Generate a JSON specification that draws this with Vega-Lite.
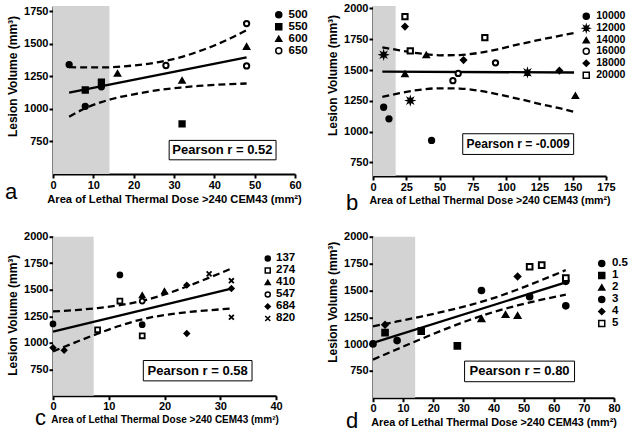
{
"$schema":"https://vega.github.io/schema/vega-lite/v6.json",
"padding":{"left":5,"top":2,"right":0,"bottom":0},
"background":"white",
"config":{
 "font":"Liberation Sans",
 "view":{"stroke":null},
 "axis":{"domainColor":"black","domainWidth":2,"tickColor":"black","tickWidth":2,"tickSize":4,"labelFontSize":11,"labelFontWeight":"bold","labelColor":"black","titleFontWeight":"bold","titleColor":"black","grid":false,"labelPadding":1,"labelOverlap":false,"labelFlush":false,"tickCount":20},
 "axisX":{"titlePadding":3},
 "axisY":{"titleFontSize":12,"titlePadding":4,"format":"d"},
 "legend":{"labelFontWeight":"bold","labelColor":"black","labelOffset":4,"symbolSize":36},
 "title":{"color":"black"}
},
"concat":[
{
 "width":242,"height":168,
 "title":{"text":"a","orient":"bottom","anchor":"start","frame":"group","fontSize":22,"fontWeight":"normal","dx":-48,"dy":-26},
 "layer":[
  {"data":{"values":[{"x":0,"x2":14}]},"mark":{"type":"rect","color":"#d3d3d3"},
   "encoding":{"x":{"field":"x","type":"quantitative","scale":{"domain":[0,60],"nice":false},"axis":{"values":[0,10,20,30,40,50,60],"tickCount":20,"title":"Area of Lethal Thermal Dose >240 CEM43 (mm²)","titleFontSize":11.2,"labelOverlap":false}},"x2":{"field":"x2"},
   "y":{"datum":1790,"type":"quantitative","scale":{"domain":[500,1790],"nice":false},"axis":{"values":[750,1000,1250,1500,1750],"tickCount":20,"title":"Lesion  Volume (mm³)","titleY":70,"labelOverlap":false}},"y2":{"datum":500}}},
  {"data":{"values":[
   {"s":"u","x":4,"y":1320},{"s":"u","x":8,"y":1318},{"s":"u","x":12,"y":1318},{"s":"u","x":16,"y":1323},{"s":"u","x":20,"y":1333},{"s":"u","x":24,"y":1348},{"s":"u","x":28,"y":1370},{"s":"u","x":32,"y":1400},{"s":"u","x":36,"y":1440},{"s":"u","x":40,"y":1487},{"s":"u","x":44,"y":1542},{"s":"u","x":48,"y":1605},
   {"s":"l","x":4,"y":940},{"s":"l","x":8,"y":1005},{"s":"l","x":12,"y":1052},{"s":"l","x":16,"y":1087},{"s":"l","x":20,"y":1112},{"s":"l","x":24,"y":1134},{"s":"l","x":28,"y":1152},{"s":"l","x":32,"y":1165},{"s":"l","x":36,"y":1176},{"s":"l","x":40,"y":1184},{"s":"l","x":44,"y":1190},{"s":"l","x":48,"y":1195}]},
   "mark":{"type":"line","strokeDash":[7,4],"strokeWidth":2.3,"color":"black","interpolate":"monotone"},
   "encoding":{"x":{"field":"x","type":"quantitative"},"y":{"field":"y","type":"quantitative"},"detail":{"field":"s"}}},
  {"data":{"values":[{"x":4,"y":1125},{"x":48,"y":1395}]},"mark":{"type":"line","strokeWidth":2.3,"color":"black"},
   "encoding":{"x":{"field":"x","type":"quantitative"},"y":{"field":"y","type":"quantitative"}}},
  {"data":{"values":[{"x":28.8,"x2":55.3,"y":609,"y2":758}]},"mark":{"type":"rect","fill":"white","stroke":"black","strokeWidth":1},
   "encoding":{"x":{"field":"x","type":"quantitative"},"x2":{"field":"x2"},"y":{"field":"y","type":"quantitative"},"y2":{"field":"y2"}}},
  {"data":{"values":[{"x":42,"y":683,"t":"Pearson r = 0.52"}]},"mark":{"type":"text","fontSize":13,"fontWeight":"bold","color":"black"},
   "encoding":{"x":{"field":"x","type":"quantitative"},"y":{"field":"y","type":"quantitative"},"text":{"field":"t"}}},
  {"data":{"values":[
   {"g":"500","x":4,"y":1340},{"g":"500","x":8,"y":1020},{"g":"500","x":12,"y":1170},
   {"g":"550","x":8,"y":1145},{"g":"550","x":12,"y":1205},{"g":"550","x":32,"y":885},
   {"g":"600","x":16,"y":1272},{"g":"600","x":32,"y":1218},{"g":"600","x":48,"y":1478},
   {"g":"650","x":28,"y":1333},{"g":"650","x":48,"y":1655},{"g":"650","x":48,"y":1330}]},
   "mark":{"type":"point","filled":true,"stroke":"black","strokeWidth":2,"opacity":1,"size":28},
   "encoding":{"x":{"field":"x","type":"quantitative"},"y":{"field":"y","type":"quantitative"},
    "shape":{"field":"g","type":"nominal","scale":{"domain":["500","550","600","650"],"range":["circle","square","triangle-up","circle"]},"legend":{"title":null,"orient":"none","legendX":220,"legendY":3,"labelFontSize":11.5,"rowPadding":-1,"encode":{"symbols":{"update":{"stroke":{"value":"black"},"strokeWidth":{"value":2}}}}}},
    "fill":{"field":"g","type":"nominal","scale":{"domain":["500","550","600","650"],"range":["black","black","black","white"]},"legend":{"title":null,"orient":"none","legendX":220,"legendY":3,"labelFontSize":11.5,"rowPadding":-1,"encode":{"symbols":{"update":{"stroke":{"value":"black"},"strokeWidth":{"value":2}}}}}}}}
 ]
},
{
 "width":233,"height":170,
 "title":{"text":"b","orient":"bottom","anchor":"start","frame":"group","fontSize":22,"fontWeight":"normal","dx":-27,"dy":-17},
 "layer":[
  {"data":{"values":[{"x":0,"x2":17}]},"mark":{"type":"rect","color":"#d3d3d3"},
   "encoding":{"x":{"field":"x","type":"quantitative","scale":{"domain":[0,175],"nice":false},"axis":{"values":[0,25,50,75,100,125,150,175],"tickCount":20,"title":"Area of Lethal Thermal Dose >240 CEM43 (mm²)","titleFontSize":10.6,"labelOverlap":false}},"x2":{"field":"x2"},
   "y":{"datum":2020,"type":"quantitative","scale":{"domain":[640,2020],"nice":false},"axis":{"values":[750,1000,1250,1500,1750,2000],"tickCount":20,"title":"Lesion  Volume (mm³)","titleY":69,"labelOverlap":false}},"y2":{"datum":640}}},
  {"data":{"values":[
   {"s":"u","x":7,"y":1685},{"s":"u","x":20,"y":1660},{"s":"u","x":35,"y":1635},{"s":"u","x":50,"y":1620},{"s":"u","x":65,"y":1622},{"s":"u","x":80,"y":1640},{"s":"u","x":95,"y":1672},{"s":"u","x":110,"y":1710},{"s":"u","x":125,"y":1745},{"s":"u","x":140,"y":1778},{"s":"u","x":151,"y":1800},
   {"s":"l","x":7,"y":1283},{"s":"l","x":20,"y":1312},{"s":"l","x":35,"y":1340},{"s":"l","x":50,"y":1352},{"s":"l","x":65,"y":1350},{"s":"l","x":80,"y":1332},{"s":"l","x":95,"y":1300},{"s":"l","x":110,"y":1265},{"s":"l","x":125,"y":1225},{"s":"l","x":140,"y":1190},{"s":"l","x":151,"y":1160}]},
   "mark":{"type":"line","strokeDash":[7,4],"strokeWidth":2.3,"color":"black","interpolate":"monotone"},
   "encoding":{"x":{"field":"x","type":"quantitative"},"y":{"field":"y","type":"quantitative"},"detail":{"field":"s"}}},
  {"data":{"values":[{"x":7,"y":1487},{"x":151,"y":1480}]},"mark":{"type":"line","strokeWidth":2.3,"color":"black"},
   "encoding":{"x":{"field":"x","type":"quantitative"},"y":{"field":"y","type":"quantitative"}}},
  {"data":{"values":[{"x":67.4,"x2":150.7,"y":815,"y2":983}]},"mark":{"type":"rect","fill":"white","stroke":"black","strokeWidth":1},
   "encoding":{"x":{"field":"x","type":"quantitative"},"x2":{"field":"x2"},"y":{"field":"y","type":"quantitative"},"y2":{"field":"y2"}}},
  {"data":{"values":[{"x":109,"y":899,"t":"Pearson r = -0.009"}]},"mark":{"type":"text","fontSize":12,"fontWeight":"bold","color":"black"},
   "encoding":{"x":{"field":"x","type":"quantitative"},"y":{"field":"y","type":"quantitative"},"text":{"field":"t"}}},
  {"data":{"values":[
   {"g":"10000","x":8,"y":1198},{"g":"10000","x":12,"y":1104},{"g":"10000","x":44,"y":929},
   {"g":"12000","x":8,"y":1624},{"g":"12000","x":28,"y":1252},{"g":"12000","x":116,"y":1481},
   {"g":"14000","x":24,"y":1468},{"g":"14000","x":40,"y":1622},{"g":"14000","x":152,"y":1292},
   {"g":"16000","x":60,"y":1414},{"g":"16000","x":64,"y":1473},{"g":"16000","x":92,"y":1559},
   {"g":"18000","x":24,"y":1853},{"g":"18000","x":68,"y":1581},{"g":"18000","x":140,"y":1495},
   {"g":"20000","x":24,"y":1934},{"g":"20000","x":28,"y":1656},{"g":"20000","x":84,"y":1764}]},
   "mark":{"type":"point","filled":true,"stroke":"black","strokeWidth":2,"opacity":1,"size":28},
   "encoding":{"x":{"field":"x","type":"quantitative"},"y":{"field":"y","type":"quantitative"},
    "shape":{"field":"g","type":"nominal","scale":{"domain":["10000","12000","14000","16000","18000","20000"],"range":["circle","M1,0L0.42,0.17L0.71,0.71L0.17,0.42L0,1L-0.17,0.42L-0.71,0.71L-0.42,0.17L-1,0L-0.42,-0.17L-0.71,-0.71L-0.17,-0.42L0,-1L0.17,-0.42L0.71,-0.71L0.42,-0.17Z","triangle-up","circle","diamond","square"]},"legend":{"title":null,"orient":"none","legendX":208,"legendY":5,"labelFontSize":10.5,"rowPadding":-2.3,"labelOffset":4.7,"encode":{"symbols":{"update":{"stroke":{"value":"black"},"strokeWidth":{"value":2}}}}}},
    "fill":{"field":"g","type":"nominal","scale":{"domain":["10000","12000","14000","16000","18000","20000"],"range":["black","black","black","white","black","white"]},"legend":{"title":null,"orient":"none","legendX":208,"legendY":5,"labelFontSize":10.5,"rowPadding":-2.3,"labelOffset":4.7,"encode":{"symbols":{"update":{"stroke":{"value":"black"},"strokeWidth":{"value":2}}}}}}}}
 ]
},
{
 "width":223,"height":159,
 "title":{"text":"c","orient":"bottom","anchor":"start","frame":"group","fontSize":22,"fontWeight":"normal","dx":-18,"dy":-21},
 "layer":[
  {"data":{"values":[{"x":0,"x2":7.3}]},"mark":{"type":"rect","color":"#d3d3d3"},
   "encoding":{"x":{"field":"x","type":"quantitative","scale":{"domain":[0,40],"nice":false},"axis":{"values":[0,10,20,30,40],"tickCount":20,"title":"Area of Lethal Thermal Dose >240 CEM43 (mm²)","titleFontSize":10,"labelOverlap":false}},"x2":{"field":"x2"},
   "y":{"datum":2000,"type":"quantitative","scale":{"domain":[500,2000],"nice":false},"axis":{"values":[750,1000,1250,1500,1750,2000],"tickCount":20,"title":"Lesion  Volume (mm³)","titleY":78,"labelOverlap":false}},"y2":{"datum":500}}},
  {"data":{"values":[
   {"s":"u","x":0,"y":1295},{"s":"u","x":4,"y":1308},{"s":"u","x":8,"y":1327},{"s":"u","x":12,"y":1354},{"s":"u","x":16,"y":1395},{"s":"u","x":20,"y":1455},{"s":"u","x":24,"y":1530},{"s":"u","x":28,"y":1613},{"s":"u","x":32,"y":1700},
   {"s":"l","x":0,"y":918},{"s":"l","x":4,"y":1003},{"s":"l","x":8,"y":1085},{"s":"l","x":12,"y":1160},{"s":"l","x":16,"y":1221},{"s":"l","x":20,"y":1261},{"s":"l","x":24,"y":1288},{"s":"l","x":28,"y":1306},{"s":"l","x":32,"y":1322}]},
   "mark":{"type":"line","strokeDash":[7,4],"strokeWidth":2.3,"color":"black","interpolate":"monotone"},
   "encoding":{"x":{"field":"x","type":"quantitative"},"y":{"field":"y","type":"quantitative"},"detail":{"field":"s"}}},
  {"data":{"values":[{"x":0,"y":1105},{"x":32,"y":1510}]},"mark":{"type":"line","strokeWidth":2.3,"color":"black"},
   "encoding":{"x":{"field":"x","type":"quantitative"},"y":{"field":"y","type":"quantitative"}}},
  {"data":{"values":[{"x":16.2,"x2":35.7,"y":640,"y2":832}]},"mark":{"type":"rect","fill":"white","stroke":"black","strokeWidth":1},
   "encoding":{"x":{"field":"x","type":"quantitative"},"x2":{"field":"x2"},"y":{"field":"y","type":"quantitative"},"y2":{"field":"y2"}}},
  {"data":{"values":[{"x":25.95,"y":736,"t":"Pearson r = 0.58"}]},"mark":{"type":"text","fontSize":13,"fontWeight":"bold","color":"black"},
   "encoding":{"x":{"field":"x","type":"quantitative"},"y":{"field":"y","type":"quantitative"},"text":{"field":"t"}}},
  {"data":{"values":[
   {"g":"137","x":12,"y":1639},{"g":"137","x":16,"y":1170},{"g":"137","x":0,"y":1177},
   {"g":"274","x":8,"y":1122},{"g":"274","x":16,"y":1065},{"g":"274","x":12,"y":1393},
   {"g":"410","x":16,"y":1448},{"g":"410","x":20,"y":1486},
   {"g":"547","x":16,"y":1393},
   {"g":"684","x":2,"y":928},{"g":"684","x":0,"y":953},{"g":"684","x":24,"y":1543},{"g":"684","x":24,"y":1087},{"g":"684","x":32,"y":1511},
   {"g":"820","x":28,"y":1649},{"g":"820","x":32,"y":1585},{"g":"820","x":32,"y":1240}]},
   "mark":{"type":"point","filled":true,"stroke":"black","strokeWidth":1.8,"opacity":1,"size":24},
   "encoding":{"x":{"field":"x","type":"quantitative"},"y":{"field":"y","type":"quantitative"},
    "shape":{"field":"g","type":"nominal","scale":{"domain":["137","274","410","547","684","820"],"range":["circle","square","triangle-up","circle","diamond","M-1,-1L1,1M-1,1L1,-1"]},"legend":{"title":null,"orient":"none","legendX":209,"legendY":16,"labelFontSize":11.5,"symbolSize":25,"rowPadding":-4,"labelOffset":2.5,"encode":{"symbols":{"update":{"stroke":{"value":"black"},"strokeWidth":{"value":1.8}}}}}},
    "fill":{"field":"g","type":"nominal","scale":{"domain":["137","274","410","547","684","820"],"range":["black","white","black","white","black","black"]},"legend":{"title":null,"orient":"none","legendX":209,"legendY":16,"labelFontSize":11.5,"symbolSize":25,"rowPadding":-4,"labelOffset":2.5,"encode":{"symbols":{"update":{"stroke":{"value":"black"},"strokeWidth":{"value":1.8}}}}}}}}
 ]
},
{
 "width":241,"height":161,
 "title":{"text":"d","orient":"bottom","anchor":"start","frame":"group","fontSize":22,"fontWeight":"normal","dx":-27,"dy":-21},
 "layer":[
  {"data":{"values":[{"x":0,"x2":14}]},"mark":{"type":"rect","color":"#d3d3d3"},
   "encoding":{"x":{"field":"x","type":"quantitative","scale":{"domain":[0,80],"nice":false},"axis":{"values":[0,10,20,30,40,50,60,70,80],"tickCount":20,"title":"Area of Lethal Thermal Dose >240 CEM43 (mm²)","titleFontSize":10.8,"labelOverlap":false}},"x2":{"field":"x2"},
   "y":{"datum":2000,"type":"quantitative","scale":{"domain":[500,2000],"nice":false},"axis":{"values":[750,1000,1250,1500,1750,2000],"tickCount":20,"title":"Lesion  Volume (mm³)","titleY":65,"labelOverlap":false}},"y2":{"datum":500}}},
  {"data":{"values":[
   {"s":"u","x":0,"y":1165},{"s":"u","x":8,"y":1210},{"s":"u","x":16,"y":1256},{"s":"u","x":24,"y":1306},{"s":"u","x":32,"y":1362},{"s":"u","x":40,"y":1428},{"s":"u","x":48,"y":1508},{"s":"u","x":56,"y":1596},{"s":"u","x":64,"y":1689},
   {"s":"l","x":0,"y":855},{"s":"l","x":8,"y":952},{"s":"l","x":16,"y":1047},{"s":"l","x":24,"y":1139},{"s":"l","x":32,"y":1224},{"s":"l","x":40,"y":1298},{"s":"l","x":48,"y":1360},{"s":"l","x":56,"y":1413},{"s":"l","x":64,"y":1461}]},
   "mark":{"type":"line","strokeDash":[7,4],"strokeWidth":2.3,"color":"black","interpolate":"monotone"},
   "encoding":{"x":{"field":"x","type":"quantitative"},"y":{"field":"y","type":"quantitative"},"detail":{"field":"s"}}},
  {"data":{"values":[{"x":0,"y":1010},{"x":64,"y":1575}]},"mark":{"type":"line","strokeWidth":2.3,"color":"black"},
   "encoding":{"x":{"field":"x","type":"quantitative"},"y":{"field":"y","type":"quantitative"}}},
  {"data":{"values":[{"x":30.4,"x2":66.9,"y":649,"y2":841}]},"mark":{"type":"rect","fill":"white","stroke":"black","strokeWidth":1},
   "encoding":{"x":{"field":"x","type":"quantitative"},"x2":{"field":"x2"},"y":{"field":"y","type":"quantitative"},"y2":{"field":"y2"}}},
  {"data":{"values":[{"x":48.65,"y":745,"t":"Pearson r = 0.80"}]},"mark":{"type":"text","fontSize":13,"fontWeight":"bold","color":"black"},
   "encoding":{"x":{"field":"x","type":"quantitative"},"y":{"field":"y","type":"quantitative"},"text":{"field":"t"}}},
  {"data":{"values":[
   {"g":"0.5","x":0,"y":1001},{"g":"0.5","x":8,"y":1032},{"g":"0.5","x":36,"y":1499},
   {"g":"1","x":4,"y":1107},{"g":"1","x":16,"y":1120},{"g":"1","x":28,"y":983},
   {"g":"2","x":36,"y":1235},{"g":"2","x":44,"y":1274},{"g":"2","x":48,"y":1265},
   {"g":"3","x":52,"y":1441},{"g":"3","x":64,"y":1584},{"g":"3","x":64,"y":1356},
   {"g":"4","x":4,"y":1180},{"g":"4","x":48,"y":1629},
   {"g":"5","x":52,"y":1720},{"g":"5","x":56,"y":1735},{"g":"5","x":64,"y":1614}]},
   "mark":{"type":"point","filled":true,"stroke":"black","strokeWidth":2,"opacity":1,"size":32},
   "encoding":{"x":{"field":"x","type":"quantitative"},"y":{"field":"y","type":"quantitative"},
    "shape":{"field":"g","type":"nominal","scale":{"domain":["0.5","1","2","3","4","5"],"range":["circle","square","triangle-up","circle","diamond","square"]},"legend":{"title":null,"orient":"none","legendX":223,"legendY":21,"labelFontSize":11.5,"rowPadding":-3,"labelOffset":4.4,"encode":{"symbols":{"update":{"stroke":{"value":"black"},"strokeWidth":{"value":2}}}}}},
    "fill":{"field":"g","type":"nominal","scale":{"domain":["0.5","1","2","3","4","5"],"range":["black","black","black","black","black","white"]},"legend":{"title":null,"orient":"none","legendX":223,"legendY":21,"labelFontSize":11.5,"rowPadding":-3,"labelOffset":4.4,"encode":{"symbols":{"update":{"stroke":{"value":"black"},"strokeWidth":{"value":2}}}}}}}}
 ]
}
],
"columns":2,
"spacing":{"row":60.7,"column":78},
"bounds":"flush",
"resolve":{"scale":{"shape":"independent","fill":"independent"},"legend":{"shape":"independent","fill":"independent"}}
}
